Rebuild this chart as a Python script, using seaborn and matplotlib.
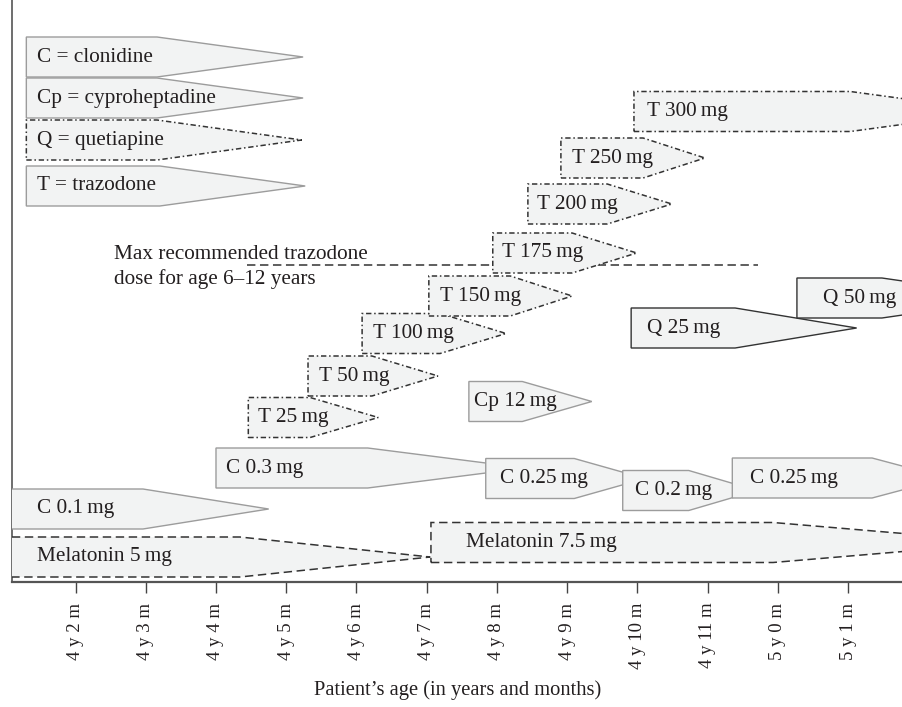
import matplotlib
matplotlib.use("Agg")
import matplotlib.pyplot as plt
import seaborn as sns

# x = months after the 4th birthday, y = lane height above the axis
TICKS = list(range(2, 14))
TICK_LABELS = ["4 y 2 m", "4 y 3 m", "4 y 4 m", "4 y 5 m", "4 y 6 m", "4 y 7 m",
               "4 y 8 m", "4 y 9 m", "4 y 10 m", "4 y 11 m", "5 y 0 m", "5 y 1 m"]

labels = ["C = clonidine", "Cp = cyproheptadine", "Q = quetiapine", "T = trazodone",
          "T 25\u2009mg", "T 50\u2009mg", "T 100\u2009mg", "T 150\u2009mg", "T 175\u2009mg",
          "T 200\u2009mg", "T 250\u2009mg", "T 300\u2009mg",
          "Cp 12\u2009mg", "Q 25\u2009mg", "Q 50\u2009mg",
          "C 0.3\u2009mg", "C 0.1\u2009mg", "C 0.25\u2009mg", "C 0.2\u2009mg", "C 0.25\u2009mg",
          "Melatonin 5\u2009mg", "Melatonin 7.5\u2009mg"]
start = [1.30, 1.30, 1.30, 1.30,
         4.46, 5.31, 6.08, 7.03, 7.94, 8.44, 8.91, 9.95,
         7.60, 9.91, 12.27,
         4.00, 0.90, 7.84, 9.79, 11.35,
         0.90, 7.06]
flat_end = [3.16, 3.16, 3.16, 3.20,
            5.34, 6.22, 7.19, 8.19, 9.07, 9.57, 10.08, 13.03,
            8.36, 11.39, 13.48,
            6.16, 2.96, 9.10, 10.73, 13.34,
            4.34, 11.93]
tip = [5.24, 5.24, 5.22, 5.27,
       6.31, 7.16, 8.13, 9.07, 9.99, 10.49, 10.96, 15.13,
       9.35, 13.12, 15.45,
       8.40, 4.75, 10.11, 11.70, 14.41,
       7.05, 15.30]
level = [525, 484, 442, 396,
         164.5, 206, 248.5, 286, 329, 378, 424, 470.5,
         180.5, 254, 284,
         114, 73, 103.5, 91.5, 104,
         25, 39.5]
label_x = [1.45, 1.45, 1.45, 1.45,
           4.60, 5.47, 6.24, 7.19, 8.07, 8.57, 9.07, 10.13,
           7.67, 10.13, 12.64,
           4.14, 1.45, 8.04, 9.96, 11.60,
           1.45, 7.56]
kind = ["grey", "grey", "dashdot", "grey",
        "dashdot", "dashdot", "dashdot", "dashdot", "dashdot", "dashdot", "dashdot", "dashdot",
        "grey", "solid", "solid",
        "grey", "grey", "grey", "grey", "grey",
        "dashed", "dashed"]

max_line_x = [4.44, 11.72]
max_line_y = 317
max_text = ["Max recommended trazodone", "dose for age 6\u201312 years"]
max_text_x = 2.55
max_text_y = [323, 298]

FILL = "#f2f3f3"
INK = "#231f20"
BOX_H = 40
STYLES = {
    "grey": dict(edgecolor="#9c9c9c", linestyle="-", linewidth=1.0),
    "solid": dict(edgecolor="#333333", linestyle="-", linewidth=1.0),
    "dashdot": dict(edgecolor="#333333", linestyle=(0, (3.5, 1.8, 1.0, 1.8)), linewidth=1.1),
    "dashed": dict(edgecolor="#333333", linestyle=(0, (5.5, 3.0)), linewidth=1.1),
}

sns.set_theme(style="white")
plt.rcParams['font.family'] = ['Liberation Serif', 'DejaVu Serif']

fig = plt.figure(figsize=(9.03, 7.07), dpi=100)
ax = fig.add_axes([12 / 903, 125 / 707, 891 / 903, 582 / 707])

ax.plot(max_line_x, [max_line_y, max_line_y], color="#333333",
        linestyle=(0, (5.5, 3.0)), linewidth=1.1, zorder=1)
for txt, ty in zip(max_text, max_text_y):
    ax.text(max_text_x, ty, txt, fontsize=15.3, color=INK,
            ha="left", va="baseline", zorder=1)

for i in range(len(labels)):
    x0, x1, x2, yc = start[i], flat_end[i], tip[i], level[i]
    yb, yt = yc - BOX_H / 2, yc + BOX_H / 2
    ax.fill([x0, x1, x2, x1, x0], [yb, yb, yc, yt, yt], facecolor=FILL,
            joinstyle="miter", zorder=2 + i, **STYLES[kind[i]])
    ax.text(label_x[i], yc, labels[i], fontsize=15.3, color=INK,
            ha="left", va="center", zorder=2 + i)

ax.set_xlim(1.096, 13.78)
ax.set_ylim(0, 582)
ax.set_yticks([])
ax.set_xticks(TICKS)
ax.set_xticklabels(TICK_LABELS, rotation=90, fontsize=13.5, color=INK)
ax.tick_params(axis="x", direction="out", length=8, width=1.0, color="#444444",
               pad=7, bottom=True)
ax.set_xlabel("Patient\u2019s age (in years and months)", fontsize=14.8,
              color=INK, labelpad=8)
sns.despine(ax=ax)
for side in ["left", "bottom"]:
    ax.spines[side].set_color("#555555")
ax.spines["left"].set_linewidth(1.2)
ax.spines["bottom"].set_linewidth(1.6)
ax.set_facecolor("white")

fig.savefig("out.png", dpi=100)
plt.close(fig)
